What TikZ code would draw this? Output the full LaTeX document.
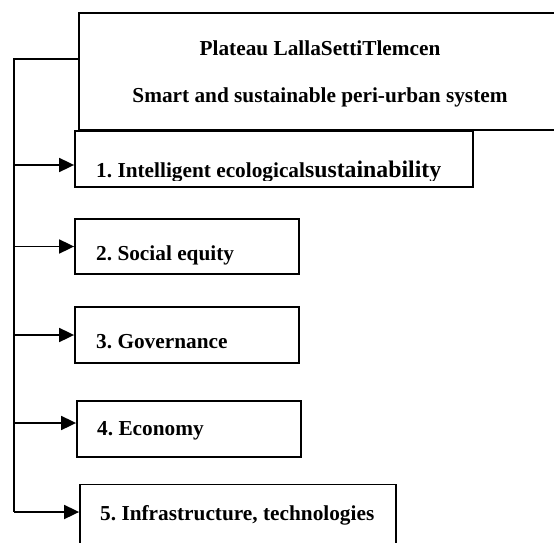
\documentclass[tikz,border=0pt]{standalone}
\usepackage{fontspec}
\setmainfont{Liberation Serif}
\usetikzlibrary{arrows.meta}
\frenchspacing

\begin{document}
\begin{tikzpicture}[x=1pt,y=-1pt]

      \useasboundingbox (0,0) rectangle (554,543);
      \clip (0,0) rectangle (554,543);

      \begin{scope}[every node/.style={rectangle, draw, line width=1.8pt, inner sep=0pt}]
        \node[minimum width=500pt, minimum height=117pt] (0) at (329,71.5) {};
        \node[minimum width=398pt, minimum height=56pt]  (1) at (274,159)  {};
        \node[minimum width=224pt, minimum height=55pt]  (2) at (187,246.5) {};
        \node[minimum width=224pt, minimum height=56pt]  (3) at (187,335)  {};
        \node[minimum width=224pt, minimum height=56pt]  (4) at (189,429)  {};
        \node[minimum width=316pt, minimum height=75pt]  (5) at (238,522)  {};
      \end{scope}

      % texts
      \begin{scope}[every node/.style={font=\fontsize{21.3}{25}\selectfont\bfseries, inner sep=0pt}]
        \node (t0a) at (320,48) {Plateau LallaSettiTlemcen};
        \node (t0b) at (320,97) {Smart and sustainable peri-urban system};
        \begin{scope}
          \clip (75,131) rectangle (473,180);
          \node[anchor=base west] (t1) at (96,177) {1. Intelligent ecological{\fontsize{23.8}{28}\selectfont sustainability}};
        \end{scope}
        \node[anchor=base west] (t2) at (96,260) {2. Social equity};
        \node[anchor=base west] (t3) at (96,348) {3. Governance};
        \node[anchor=base west] (t4) at (97,435) {4. Economy};
        \node[anchor=base west] (t5) at (100,520) {5. Infrastructure, technologies};
      \end{scope}

      \coordinate (sp) at (14,512);
      \coordinate (e1) at ([yshift=-6pt]1.west);
      \coordinate (e2) at (2.west);
      \coordinate (e3) at (3.west);
      \coordinate (e4) at ([yshift=6pt]4.west);
      \coordinate (e5) at ([yshift=10pt]5.west);

      \draw[line width=1.5pt] ([yshift=12.5pt]0.west) -| (sp);

      \begin{scope}[every edge/.style={draw, line width=1.8pt, -{Triangle[length=15pt,width=14pt]}}]
        \path (sp |- e1) edge (e1);
        \path (sp |- e2) edge (e2);
        \path (sp |- e3) edge (e3);
        \path (sp |- e4) edge (e4);
        \path (sp |- e5) edge (e5);
      \end{scope}

    \end{tikzpicture}
\end{document}
